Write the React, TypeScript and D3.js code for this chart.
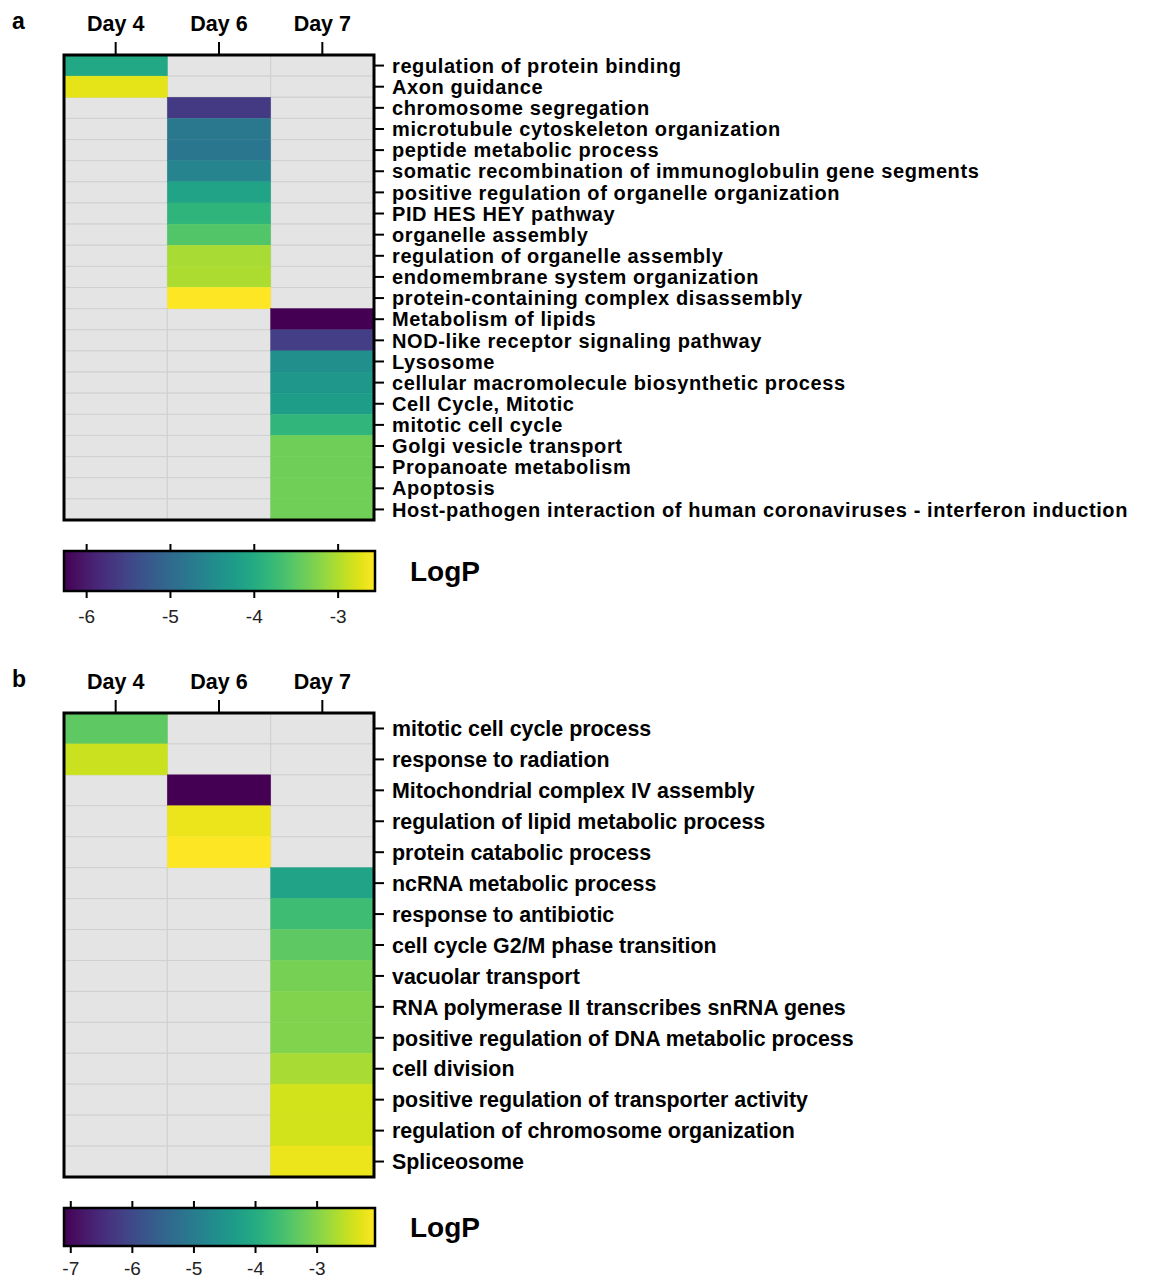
import React from 'react';
import * as d3 from 'd3';

// Columns
const days = ['Day 4', 'Day 6', 'Day 7'];

// Panel a
const termsA = [
  'regulation of protein binding',
  'Axon guidance',
  'chromosome segregation',
  'microtubule cytoskeleton organization',
  'peptide metabolic process',
  'somatic recombination of immunoglobulin gene segments',
  'positive regulation of organelle organization',
  'PID HES HEY pathway',
  'organelle assembly',
  'regulation of organelle assembly',
  'endomembrane system organization',
  'protein-containing complex disassembly',
  'Metabolism of lipids',
  'NOD-like receptor signaling pathway',
  'Lysosome',
  'cellular macromolecule biosynthetic process',
  'Cell Cycle, Mitotic',
  'mitotic cell cycle',
  'Golgi vesicle transport',
  'Propanoate metabolism',
  'Apoptosis',
  'Host-pathogen interaction of human coronaviruses - interferon induction',
];
const day4A = [-4.04, -2.71, null, null, null, null, null, null, null, null, null, null, null, null, null, null, null, null, null, null, null, null];
const day6A = [null, null, -5.64, -4.79, -4.82, -4.6, -4.12, -3.86, -3.56, -3.04, -3.02, -2.56, null, null, null, null, null, null, null, null, null, null];
const day7A = [null, null, null, null, null, null, null, null, null, null, null, null, -6.27, -5.6, -4.42, -4.3, -4.22, -3.84, -3.38, -3.38, -3.37, -3.36];
const colorDomainA = [-6.27, -2.56];
const colorTicksA = [-6, -5, -4, -3];

// Panel b
const termsB = [
  'mitotic cell cycle process',
  'response to radiation',
  'Mitochondrial complex IV assembly',
  'regulation of lipid metabolic process',
  'protein catabolic process',
  'ncRNA metabolic process',
  'response to antibiotic',
  'cell cycle G2/M phase transition',
  'vacuolar transport',
  'RNA polymerase II transcribes snRNA genes',
  'positive regulation of DNA metabolic process',
  'cell division',
  'positive regulation of transporter activity',
  'regulation of chromosome organization',
  'Spliceosome',
];
const day4B = [-3.32, -2.46, null, null, null, null, null, null, null, null, null, null, null, null, null];
const day6B = [null, null, -7.11, -2.2, -2.06, null, null, null, null, null, null, null, null, null, null];
const day7B = [null, null, null, null, null, -4.18, -3.63, -3.32, -3.12, -3.02, -3.01, -2.72, -2.41, -2.41, -2.2];
const colorDomainB = [-7.11, -2.06];
const colorTicksB = [-7, -6, -5, -4, -3];

const FONT = "'Liberation Sans', Arial, Helvetica, sans-serif";
const LEFT = 64;
const RIGHT = 374;

type PanelProps = {
  id: string;
  letter: string;
  top: number;
  bottom: number;
  terms: string[];
  cols: (number | null)[][];
  domain: number[];
  ticks: number[];
  barTop: number;
  barBottom: number;
  tickLabelOffset: number;
  labelSize: number;
  labelSpacing: number;
};

function Panel({ id, letter, top, bottom, terms, cols, domain, ticks, barTop, barBottom, tickLabelOffset, labelSize, labelSpacing }: PanelProps) {
  const x = d3.scaleBand<string>().domain(days).range([LEFT, RIGHT]).padding(0);
  const y = d3.scaleBand<string>().domain(terms).range([top, bottom]).padding(0);
  const color = d3.scaleSequential(d3.interpolateViridis).domain(domain as [number, number]);
  const cx = d3.scaleLinear().domain(domain).range([LEFT, RIGHT + 1]);

  const cells: { day: string; term: string; v: number | null }[] = [];
  days.forEach((day, j) => {
    terms.forEach((term, i) => cells.push({ day, term, v: cols[j][i] }));
  });

  const stops = d3.range(0, 1.0001, 0.05);

  return (
    <g>
      <defs>
        <linearGradient id={`grad-${id}`} x1="0" x2="1" y1="0" y2="0">
          {stops.map((t) => (
            <stop key={t} offset={`${t * 100}%`} stopColor={d3.interpolateViridis(t)} />
          ))}
        </linearGradient>
      </defs>

      <text x={12} y={top - 26} fontFamily={FONT} fontWeight="bold" fontSize={23}>{letter}</text>

      {/* empty cells first, coloured cells on top */}
      {cells.filter((c) => c.v === null).map((c) => (
        <rect key={`e-${c.day}-${c.term}`} x={x(c.day)} y={y(c.term)} width={x.bandwidth()} height={y.bandwidth()}
          fill="#e4e4e4" stroke="#d0d0d0" strokeWidth={1} />
      ))}
      {cells.filter((c) => c.v !== null).map((c) => (
        <rect key={`v-${c.day}-${c.term}`} x={x(c.day)} y={y(c.term)} width={x.bandwidth()} height={y.bandwidth()}
          fill={color(c.v as number)} stroke={color(c.v as number)} strokeWidth={0.5} />
      ))}
      <rect x={LEFT} y={top} width={RIGHT - LEFT} height={bottom - top} fill="none" stroke="#000" strokeWidth={3} />

      {/* column axis */}
      {days.map((d) => (
        <g key={d}>
          <line x1={x(d)! + x.bandwidth() / 2} x2={x(d)! + x.bandwidth() / 2} y1={top - 13} y2={top} stroke="#000" strokeWidth={2} />
          <text x={x(d)! + x.bandwidth() / 2} y={top - 24} textAnchor="middle" fontFamily={FONT} fontWeight="bold" fontSize={21.5}>{d}</text>
        </g>
      ))}

      {/* row axis */}
      {terms.map((t) => (
        <g key={t}>
          <line x1={RIGHT} x2={RIGHT + 10} y1={y(t)! + y.bandwidth() / 2} y2={y(t)! + y.bandwidth() / 2} stroke="#000" strokeWidth={2} />
          <text x={392} y={y(t)! + y.bandwidth() / 2} dy="0.36em" fontFamily={FONT} fontWeight="bold"
            fontSize={labelSize} letterSpacing={labelSpacing}>{t}</text>
        </g>
      ))}

      {/* colour bar */}
      <rect x={LEFT} y={barTop} width={RIGHT + 1 - LEFT} height={barBottom - barTop} fill={`url(#grad-${id})`} stroke="#000" strokeWidth={2.5} />
      {ticks.map((v) => (
        <g key={v}>
          <line x1={cx(v)} x2={cx(v)} y1={barTop - 7} y2={barTop} stroke="#000" strokeWidth={2} />
          <line x1={cx(v)} x2={cx(v)} y1={barBottom} y2={barBottom + 7} stroke="#000" strokeWidth={2} />
          <text x={cx(v)} y={barBottom + tickLabelOffset} textAnchor="middle" fontFamily={FONT} fontSize={19} fill="#222">{v}</text>
        </g>
      ))}
      <text x={410} y={(barTop + barBottom) / 2} dy="0.36em" fontFamily={FONT} fontWeight="bold" fontSize={28}>LogP</text>
    </g>
  );
}

export default function App() {
  return (
    <svg width={1155} height={1280} style={{ position: 'absolute', left: 0, top: 0, background: '#fff' }}>
      <Panel id="a" letter="a" top={55} bottom={520} terms={termsA} cols={[day4A, day6A, day7A]}
        domain={colorDomainA} ticks={colorTicksA} barTop={551} barBottom={591} tickLabelOffset={32}
        labelSize={20} labelSpacing={0.6} />
      <Panel id="b" letter="b" top={713} bottom={1177} terms={termsB} cols={[day4B, day6B, day7B]}
        domain={colorDomainB} ticks={colorTicksB} barTop={1208} barBottom={1246} tickLabelOffset={29}
        labelSize={21.4} labelSpacing={0} />
    </svg>
  );
}
